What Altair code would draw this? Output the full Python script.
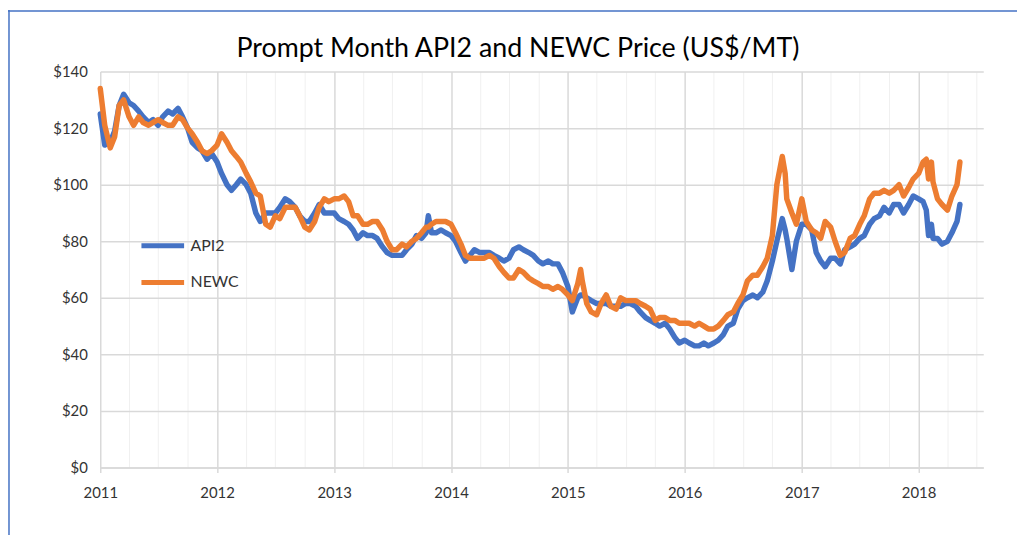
import altair as alt
import pandas as pd

dates = [
    "2011-01-01","2011-01-15","2011-02-01","2011-02-15","2011-03-01","2011-03-15","2011-04-01","2011-04-15",
    "2011-05-01","2011-05-15","2011-06-01","2011-06-15","2011-07-01","2011-07-15","2011-08-01","2011-08-15",
    "2011-09-01","2011-09-15","2011-10-01","2011-10-15","2011-11-01","2011-11-15","2011-12-01","2011-12-15",
    "2012-01-01","2012-01-15","2012-02-01","2012-02-15","2012-03-01","2012-03-15","2012-04-01","2012-04-15",
    "2012-05-01","2012-05-15","2012-06-01","2012-06-15","2012-07-01","2012-07-15","2012-08-01","2012-08-15",
    "2012-09-01","2012-09-15","2012-10-01","2012-10-15","2012-11-01","2012-11-15","2012-12-01","2012-12-15",
    "2013-01-01","2013-01-15","2013-02-01","2013-02-15","2013-03-01","2013-03-15","2013-04-01","2013-04-15",
    "2013-05-01","2013-05-15","2013-06-01","2013-06-15","2013-07-01","2013-07-15","2013-08-01","2013-08-15",
    "2013-09-01","2013-09-15","2013-10-01","2013-10-15","2013-10-22","2013-11-01","2013-11-15","2013-12-01",
    "2013-12-15",
    "2014-01-01","2014-01-15","2014-02-01","2014-02-15","2014-03-01","2014-03-15","2014-04-01","2014-04-15",
    "2014-05-01","2014-05-15","2014-06-01","2014-06-15","2014-07-01","2014-07-15","2014-08-01","2014-08-15",
    "2014-09-01","2014-09-15","2014-10-01","2014-10-15","2014-11-01","2014-11-15","2014-12-01","2014-12-15",
    "2015-01-01","2015-01-15","2015-02-01","2015-02-10","2015-02-15","2015-03-01","2015-03-15","2015-04-01",
    "2015-04-15","2015-05-01","2015-05-15","2015-06-01","2015-06-15","2015-07-01","2015-07-15","2015-08-01",
    "2015-08-15","2015-09-01","2015-09-15","2015-10-01","2015-10-15","2015-11-01","2015-11-15","2015-12-01",
    "2015-12-15",
    "2016-01-01","2016-01-15","2016-02-01","2016-02-15","2016-03-01","2016-03-15","2016-04-01","2016-04-15",
    "2016-05-01","2016-05-15","2016-06-01","2016-06-15","2016-07-01","2016-07-15","2016-08-01","2016-08-15",
    "2016-09-01","2016-09-15","2016-10-01","2016-10-15","2016-11-01","2016-11-10","2016-11-15","2016-12-01",
    "2016-12-15",
    "2017-01-01","2017-01-15","2017-02-01","2017-02-15","2017-03-01","2017-03-15","2017-04-01","2017-04-15",
    "2017-05-01","2017-05-15","2017-06-01","2017-06-15","2017-07-01","2017-07-15","2017-08-01","2017-08-15",
    "2017-09-01","2017-09-15","2017-10-01","2017-10-15","2017-11-01","2017-11-15","2017-12-01","2017-12-15",
    "2018-01-01","2018-01-15","2018-01-25","2018-02-01","2018-02-10","2018-02-15","2018-03-01","2018-03-15",
    "2018-04-01","2018-04-15","2018-05-01","2018-05-10",
]

api2 = [
    125,114,115,119,128,132,129,128, 126,124,122,123,121,124,126,125, 127,124,120,115,113,112,109,111,
    108,104,100,98,100,102,100,97, 90,87,90,90,90,92,95,94, 92,89,87,87,90,93,90,90,
    90,88,87,86,84,81,83,82, 82,81,78,76,75,75,75,77, 79,82,81,83,89,83,83,84, 83,
    82,80,76,73,75,77,76,76, 76,75,74,73,74,77,78,77, 76,75,73,72,73,72,72,69,
    64,55,60,61,61,60,59,58, 58,58,57,57,57,58,58,57, 55,53,52,51,50,51,49,46, 44,
    45,44,43,43,44,43,44,45, 47,50,51,56,59,60,61,60, 62,66,73,80,88,84,81,70, 80,
    86,86,84,76,73,71,74,74, 72,77,78,79,81,82,86,88, 89,92,90,93,93,90,93,96,
    95,94,91,82,86,81,81,79, 80,83,87,93,
]

newc = [
    134,121,113,117,128,130,124,121, 124,122,121,122,123,122,121,121, 124,123,120,118,115,112,111,112,
    114,118,115,112,110,108,104,101, 97,96,86,85,89,88,92,92, 92,89,85,84,87,92,95,94,
    95,95,96,94,89,89,86,86, 87,87,84,80,77,77,79,78, 80,81,83,85,85,86,87,87, 87,
    86,83,79,75,74,74,74,74, 75,74,71,69,67,67,70,69, 67,66,65,64,64,63,64,63,
    61,59,65,70,66,58,55,54, 58,61,57,56,60,59,59,59, 58,57,56,52,53,53,52,52, 51,
    51,51,50,51,50,49,49,50, 52,54,55,58,61,66,68,68, 71,74,82,100,110,104,95,90, 86,
    95,87,84,83,81,87,85,80, 75,76,81,82,86,89,95,97, 97,98,97,98,100,96,99,102,
    104,108,109,102,108,101,95,93, 91,96,100,108,
]

series_names = ["API2", "NEWC"]
series_colors = ["#4472C4", "#ED7D31"]
y_ticks = [0, 20, 40, 60, 80, 100, 120, 140]
years = list(range(2011, 2019))
title_text = "Prompt Month API2 and NEWC Price (US$/MT)"

rows = []
for name, vals in zip(series_names, [api2, newc]):
    for d, v in zip(dates, vals):
        rows.append({"date": d, "price": v, "series": name})
df = pd.DataFrame(rows)

quarter_ticks = [alt.DateTime(year=y, month=m, date=1) for y in years for m in (1, 4, 7, 10)
                 if not (y == 2018 and m == 10)]

FONT = "Lato"
TXT = "#333333"

lines = alt.Chart(df).mark_line(strokeWidth=5.5, strokeJoin="round", strokeCap="round").encode(
    x=alt.X("date:T",
            scale=alt.Scale(domain=[alt.DateTime(year=2011, month=1, date=1),
                                    alt.DateTime(year=2018, month=7, date=22)]),
            axis=alt.Axis(title=None, values=quarter_ticks,
                          labelExpr="month(datum.value) == 0 ? timeFormat(datum.value, '%Y') : ''",
                          labelFont=FONT, labelFontSize=15, labelColor=TXT, labelPadding=13,
                          labelOverlap=False, labelBound=False, labelFlush=False,
                          grid=True,
                          gridColor={"condition": {"test": "month(datum.value) == 0", "value": "#d9d9d9"},
                                     "value": "#f0f0f0"},
                          gridWidth={"condition": {"test": "month(datum.value) == 0", "value": 1.5},
                                     "value": 1},
                          tickColor={"condition": {"test": "month(datum.value) == 0", "value": "#d9d9d9"},
                                     "value": "transparent"},
                          tickSize=5, tickWidth=1.5,
                          domainColor="#d9d9d9", domainWidth=1.5)),
    y=alt.Y("price:Q",
            scale=alt.Scale(domain=[0, 140], nice=False),
            axis=alt.Axis(title=None, values=y_ticks, labelExpr="'$' + datum.value",
                          labelFont=FONT, labelFontSize=15, labelColor=TXT, labelPadding=13,
                          domain=False, ticks=False, gridColor="#d9d9d9", gridWidth=1.5)),
    color=alt.Color("series:N",
                    scale=alt.Scale(domain=series_names, range=series_colors),
                    legend=alt.Legend(title=None, orient="none", legendX=39, legendY=151.5,
                                      symbolType="stroke", symbolSize=1849, symbolStrokeWidth=5,
                                      rowPadding=3, labelFont=FONT, labelFontSize=16,
                                      labelColor=TXT, labelOffset=4, padding=0)),
)

frame_df = pd.DataFrame({"t": [title_text]})
left_border = alt.Chart(frame_df).mark_rule(color="#4472C4", strokeWidth=1.5).encode(
    x=alt.value(-92), y=alt.value(-62), y2=alt.value(467))
top_border = alt.Chart(frame_df).mark_rule(color="#4472C4", strokeWidth=1.5).encode(
    y=alt.value(-61), x=alt.value(-93), x2=alt.value(924))
title = alt.Chart(frame_df).mark_text(font=FONT, fontSize=27, color="#000000", align="center",
                                      baseline="alphabetic").encode(
    text="t:N", x=alt.value(421), y=alt.value(-15))

chart = alt.layer(lines, left_border, top_border, title).properties(
    width=890, height=399,
    padding={"left": 93, "top": 62, "right": 34, "bottom": 68},
    autosize=alt.AutoSizeParams(type="none"),
    background="white",
).configure_view(stroke=None)

chart.save("out.html", embed_options={"renderer": "svg", "actions": False})
